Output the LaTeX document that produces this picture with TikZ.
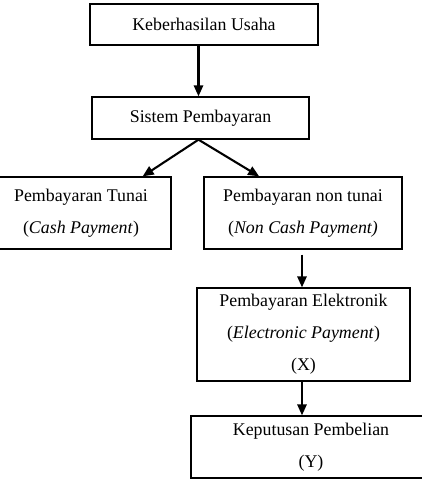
\documentclass[tikz,border=0pt]{standalone}
\usepackage{fontspec}
\setmainfont{Liberation Serif}
\usepackage{tikz}
\usetikzlibrary{arrows.meta,positioning,calc}
\tikzset{
  flowbox/.style={draw=black,fill=white,line width=0.9pt,
                  align=center,inner sep=0pt,
                  font=\fontsize{12}{21.5}\selectfont},
  flowarr/.style={-{Triangle[length=2.6mm,width=2.2mm]},line width=1.4pt}
}
\begin{document}
\begin{tikzpicture}[x=0.672pt,y=-0.672pt]
  \useasboundingbox (0,0) rectangle (422,493);
  \node[flowbox,minimum width=228*0.672pt,minimum height=41*0.672pt] (ku) at (204,24.5) {Keberhasilan Usaha};
  \node[flowbox,minimum width=217*0.672pt,minimum height=42*0.672pt] (sp) at (200.5,118) {Sistem Pembayaran};
  \node[flowbox,minimum width=180*0.672pt,minimum height=72*0.672pt] (pt) at (81,213) {Pembayaran Tunai\\(\textit{Cash Payment})};
  \node[flowbox,minimum width=198*0.672pt,minimum height=72*0.672pt] (pn) at (303,213) {Pembayaran non tunai\\(\textit{Non Cash Payment)}};
  \node[flowbox,minimum width=213*0.672pt,minimum height=93*0.672pt] (pe) at (303.5,334.5) {Pembayaran Elektronik\\(\textit{Electronic Payment})\\(X)};
  \node[flowbox,minimum width=240*0.672pt,minimum height=62*0.672pt] (kp) at (311,447) {Keputusan Pembelian\\(Y)};

  \coordinate (apex) at ($(sp.south)+(-2,0)$);
  \coordinate (pe top) at ($(pe.north)+(-1.5,0)$);
  \coordinate (pe bot) at ($(pe.south)+(-1.5,0)$);
  \draw[flowarr] (ku.south -| apex) -- (sp.north -| apex);
  \draw[flowarr] (apex) -- ($(pt.north west)!0.84!(pt.north east)$);
  \draw[flowarr] (apex) -- ($(pn.north west)!0.28!(pn.north east)$);
  \draw[flowarr,shorten <=5*0.672pt] (pn.south -| pe top) -- (pe top);
  \draw[flowarr] (pe bot) -- (kp.north -| pe bot);
\end{tikzpicture}
\end{document}
